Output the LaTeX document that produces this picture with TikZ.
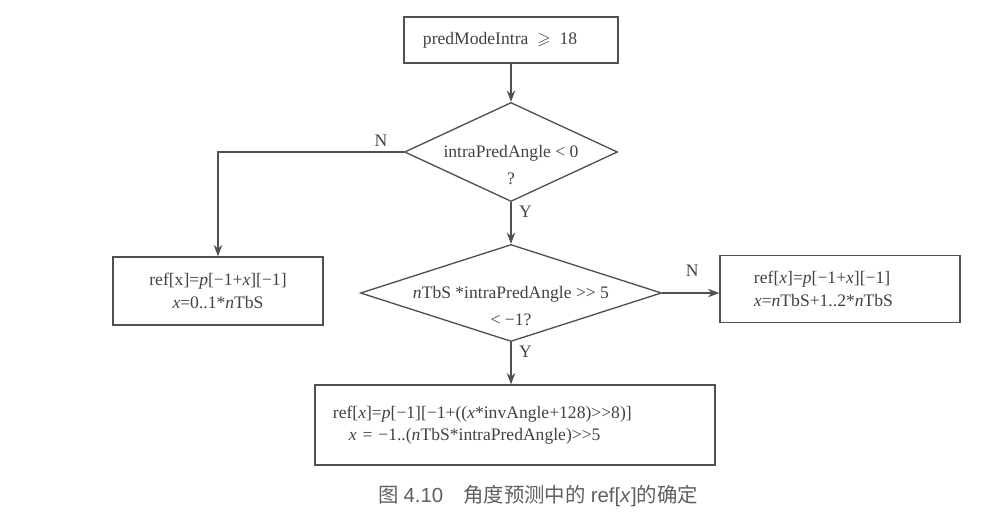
\documentclass[tikz,border=0pt]{standalone}
\usepackage{amssymb}
\usepackage{fontspec}
\setmainfont{Liberation Serif}[Ligatures=TeXOff]
\setsansfont{Liberation Sans}
\newfontfamily\cjk{Noto Sans CJK SC}
\usetikzlibrary{arrows, arrows.meta, shapes, positioning}
\tikzset{>={Stealth[length=8pt, width=6pt, inset=2.5pt]}}
\definecolor{linegray}{RGB}{80, 80, 80}
\definecolor{textgray}{RGB}{65, 65, 65}
\definecolor{capgray}{RGB}{95, 95, 95}

\begin{document}
\begin{tikzpicture}[x = 0.025cm, y = -0.025cm, line width = 0.95pt, draw = linegray,
  every node/.style = {text = textgray, font = \fontsize{12.5}{16}\selectfont},
  box/.style = {draw = linegray, rectangle, inner sep = 0pt, align = center},
  decide/.style = {draw = linegray, diamond, inner sep = 0pt}]
\useasboundingbox (0,0) rectangle (1004,531);
% boxes and decisions
\node[box, align = left, inner xsep = 0.475cm, text width = 4.4cm, minimum height = 1.15cm] (start) at (511,40) {predModeIntra\enspace$\geqslant$\enspace18};
\node[decide, minimum width = 5.325cm, minimum height = 2.475cm] (neg) at (511,152) {};
\node[align = center] (negtext) at ([yshift = -0.33cm]neg.center) {intraPredAngle < 0\\[3pt] ?};
\node[box, minimum width = 5.25cm, minimum height = 1.7cm] (leftbox) at (218,291) {ref[x]=\textit{p}[−1+\textit{x}][−1]\\ \textit{x}=0..1*\textit{n}TbS};
\node[decide, minimum width = 7.525cm, minimum height = 2.425cm] (shift) at (511,293) {};
\node[align = center] (shifttext) at ([yshift = -0.33cm]shift.center) {\textit{n}TbS *intraPredAngle >> 5\\[3pt] < −1?};
\node[box, align = left, inner xsep = 0.85cm, text width = 4.3cm, minimum height = 1.675cm] (rightbox) at (840,289) {ref[\textit{x}]=\textit{p}[−1+\textit{x}][−1]\\ \textit{x}=\textit{n}TbS+1..2*\textit{n}TbS};
\node[box, align = left, inner xsep = 0.45cm, text width = 9.1cm, minimum height = 2cm] (result) at (515,425) {ref[\textit{x}]=\textit{p}[−1][−1+((\textit{x}*invAngle+128)>>8)]\\ \hspace*{0.4cm}\textit{x} = −1..(\textit{n}TbS*intraPredAngle)>>5};
% connectors
\draw[->] (start) -- (neg);
\draw[->] (neg.west) -| (leftbox.north);
\draw[->] (neg) -- (shift);
\draw[->] (shift.east) -- (shift.east -| rightbox.west);
\draw[->] (shift.south) -- (shift.south |- result.north);
% labels
\node[above left = 0pt and 8pt of neg.west] (n1) {N};
\node[below right = -1pt and 2pt of neg.south] (y1) {Y};
\node[above right = 8pt and 13pt of shift.east] (n2) {N};
\node[below right = -1pt and 2pt of shift.south] (y2) {Y};
% caption
\node[text = capgray, font = \fontsize{14.5}{18}\selectfont] (caption) at (538,496) {{\cjk 图} {\sffamily 4.10}\hspace{0.5cm}{\cjk 角度预测中的} {\sffamily ref[\textit{x}]}{\cjk 的确定}};
\end{tikzpicture}
\end{document}
